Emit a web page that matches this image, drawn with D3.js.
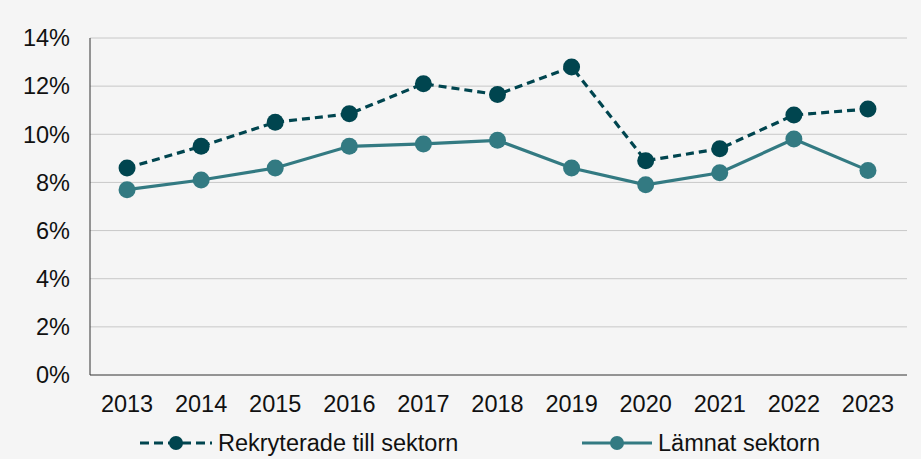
<!DOCTYPE html>
<html>
<head>
<meta charset="utf-8">
<script src="https://cdn.jsdelivr.net/npm/d3@7/dist/d3.min.js"></script>
<style>
  html, body { margin: 0; padding: 0; background: #f5f5f5; }
  svg { display: block; font-family: "Liberation Sans", Arial, sans-serif; }
</style>
</head>
<body>
<svg id="chart" width="921" height="459"></svg>
<script>
const years = ["2013","2014","2015","2016","2017","2018","2019","2020","2021","2022","2023"];
const rekryterade = [8.6, 9.5, 10.5, 10.85, 12.1, 11.65, 12.8, 8.9, 9.4, 10.8, 11.05];
const lamnat = [7.7, 8.1, 8.6, 9.5, 9.6, 9.75, 8.6, 7.9, 8.4, 9.8, 8.5];
const yTicks = [0, 2, 4, 6, 8, 10, 12, 14];
const seriesNames = ["Rekryterade till sektorn", "Lämnat sektorn"];

const svg = d3.select("#chart");
const m = { left: 90, right: 905, top: 38, bottom: 375 };
const fontSize = 23.5;

const x = d3.scaleBand().domain(years).range([m.left, m.right]);
const y = d3.scaleLinear().domain([0, 14]).range([m.bottom, m.top]);
const cx = d => x(d) + x.bandwidth() / 2;

// gridlines
svg.append("g").selectAll("line").data(yTicks.filter(t => t > 0)).join("line")
  .attr("x1", m.left).attr("x2", m.right + 2)
  .attr("y1", d => y(d)).attr("y2", d => y(d))
  .attr("stroke", "#c8c8c8").attr("stroke-width", 1);

// y axis labels
svg.append("g").selectAll("text").data(yTicks).join("text")
  .attr("x", 70).attr("y", d => y(d)).attr("dy", "0.35em")
  .attr("text-anchor", "end").attr("font-size", fontSize).attr("fill", "#111")
  .text(d => d + "%");

// axis lines
svg.append("line").attr("x1", m.left).attr("x2", m.left).attr("y1", m.top).attr("y2", m.bottom)
  .attr("stroke", "#333").attr("stroke-width", 1);
svg.append("line").attr("x1", m.left).attr("x2", m.right + 2).attr("y1", m.bottom).attr("y2", m.bottom)
  .attr("stroke", "#333").attr("stroke-width", 1);

// x labels
svg.append("g").selectAll("text").data(years).join("text")
  .attr("x", d => cx(d)).attr("y", 412)
  .attr("text-anchor", "middle").attr("font-size", fontSize).attr("fill", "#111")
  .text(d => d);

const series = [
  { name: seriesNames[0], values: rekryterade, color: "#00454f", dash: "8,5" },
  { name: seriesNames[1], values: lamnat, color: "#337a82", dash: null }
];

const line = d3.line().x((d, i) => cx(years[i])).y(d => y(d));

series.forEach(s => {
  svg.append("path").datum(s.values)
    .attr("d", line).attr("fill", "none")
    .attr("stroke", s.color).attr("stroke-width", 3.2)
    .attr("stroke-dasharray", s.dash);
  svg.append("g").selectAll("circle").data(s.values).join("circle")
    .attr("cx", (d, i) => cx(years[i])).attr("cy", d => y(d))
    .attr("r", 8.5).attr("fill", s.color);
});

// legend
const legend = [
  { s: series[0], x0: 140, x1: 212, tx: 218 },
  { s: series[1], x0: 582, x1: 652, tx: 658 }
];
legend.forEach(l => {
  const g = svg.append("g");
  const mid = (l.x0 + l.x1) / 2;
  g.append("line").attr("x1", l.x0).attr("x2", l.x1).attr("y1", 443).attr("y2", 443)
    .attr("stroke", l.s.color).attr("stroke-width", 3.2)
    .attr("stroke-dasharray", l.s.dash ? "9,5" : null);
  g.append("circle").attr("cx", mid).attr("cy", 443).attr("r", 7).attr("fill", l.s.color);
  g.append("text").attr("x", l.tx).attr("y", 443).attr("dy", "0.35em")
    .attr("font-size", fontSize).attr("fill", "#111").text(l.s.name);
});
</script>
</body>
</html>
